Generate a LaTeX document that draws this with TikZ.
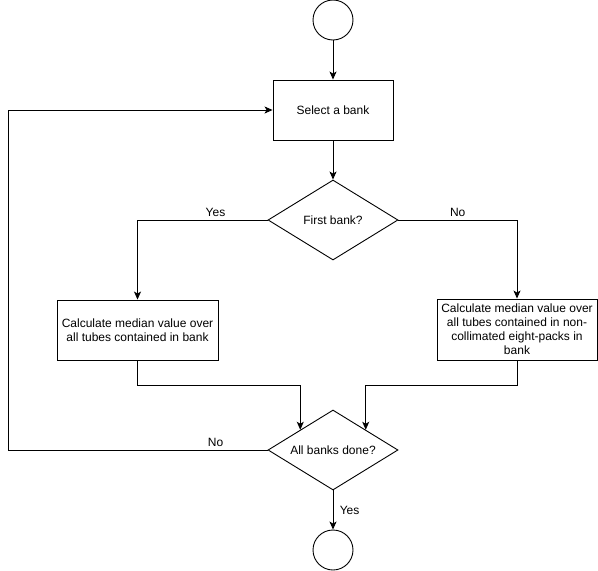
\documentclass[tikz,border=0pt]{standalone}
\usepackage{fontspec}
\setmainfont{Liberation Sans}
\usetikzlibrary{shapes.geometric,arrows.meta}

\begin{document}
\begin{tikzpicture}[x=1pt, y=-1pt,
    line width=0.9pt,
    every node/.style={font=\fontsize{12}{14}\selectfont},
    terminal/.style={draw, circle, minimum size=40pt, inner sep=0pt},
    process/.style={draw, rectangle, align=center, inner sep=2pt},
    decision/.style={draw, diamond, aspect=1.625, minimum width=130pt, minimum height=80pt, inner sep=0pt},
    flow/.style={-{Stealth[length=8pt, width=7pt, inset=2pt]}}]

    % Fix the bounding box
    \useasboundingbox (0,0) rectangle (598,571);

    % Place the nodes
    \node[terminal] (start) at (333,20) {};
    \node[process, minimum width=120pt, minimum height=60pt] (select) at (333,110) {Select a bank};
    \node[decision] (first) at (333,220) {First bank?};
    \node[process, minimum width=161pt, minimum height=60pt] (median) at (137.5,330) {Calculate median value over\\all tubes contained in bank};
    \node[process, minimum width=160pt, minimum height=61pt] (noncoll) at (517,329.5) {Calculate median value over\\all tubes contained in non-\\collimated eight-packs in\\bank};
    \node[decision] (done) at (333,450) {All banks done?};
    \node[terminal] (stop) at (333,550) {};
    \coordinate (loop) at (8,450);

    % Draw the connectors
    \draw[flow] (start) -- (select);
    \draw[flow] (select) -- (first);
    \draw[flow] (first.west) -| node[pos=0.2, above] {Yes} (median.north);
    \draw[flow] (first.east) -| node[pos=0.25, above] {No} (noncoll.north);
    \draw[flow] (median.south) -- ++(0,25) -| (done.north west);
    \draw[flow] (noncoll.south) -- ++(0,25) -| (done.north east);
    \draw[flow] (done.west) -- node[pos=0.2, above] {No} (loop) |- (select.west);
    \draw[flow] (done) -- node[midway, right, xshift=3pt] {Yes} (stop);

\end{tikzpicture}
\end{document}
